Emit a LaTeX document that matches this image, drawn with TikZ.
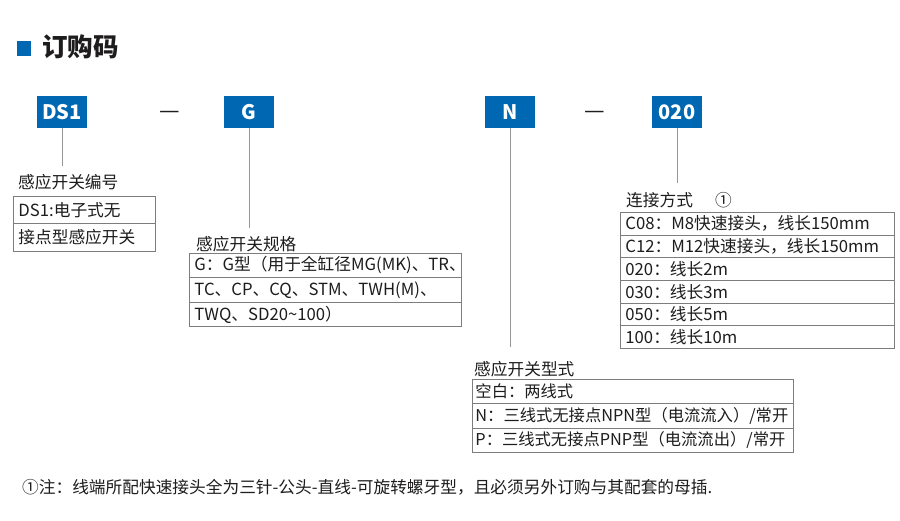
\documentclass[tikz,border=0pt]{standalone}
\usepackage{fontspec}
\setmainfont{Noto Sans CJK SC}
\definecolor{blu}{RGB}{0,104,178}
\definecolor{txt}{RGB}{30,28,28}
\definecolor{bord}{RGB}{125,125,125}
\definecolor{connc}{RGB}{150,150,150}
\begin{document}
\begin{tikzpicture}[x=1pt,y=-1pt,
  code/.style={fill=blu, text=white, font=\fontsize{20}{20}\selectfont\bfseries, minimum width=50pt, minimum height=32pt, inner sep=0pt},
  rowbox/.style={draw=bord, line width=0.9pt, anchor=north west, inner xsep=5pt, inner ysep=0pt, align=left, text=txt, font=\fontsize{16.7}{16.7}\selectfont},
  narrowrow/.style={rowbox, inner xsep=3pt, font=\fontsize{16.3}{16.3}\selectfont},
  lbl/.style={anchor=west, inner sep=0pt, text=txt, font=\fontsize{16.7}{16.7}\selectfont},
  connline/.style={draw=connc, line width=1pt},
  dashtxt/.style={inner sep=0pt, text=txt, font=\fontsize{23}{23}\selectfont}]
\useasboundingbox[fill=white] (0,0) rectangle (900,521);
% title
\node[fill=blu, minimum width=14pt, minimum height=15pt, inner sep=0pt] (sq) at (24,48.5) {};
\node[anchor=west, inner sep=0pt, text=txt, font=\fontsize{25.5}{25.5}\selectfont\bfseries] (title) at (42,47) {订购码};
% code boxes
\node[code] (ds1) at (62,112) {DS1};
\node[dashtxt] (dash1) at (170,115) {—};
\node[code] (g) at (249,112) {G};
\node[code] (n) at (510,112) {N};
\node[dashtxt] (dash2) at (595,115) {—};
\node[code] (c020) at (677,112) {020};
% connector ends
\coordinate (e1) at (62,166);
\coordinate (e2) at (249,228);
\coordinate (e3) at (510,347);
\coordinate (e4) at (677,183);
\draw[connline] (ds1.south) -- (e1);
\draw[connline] (g.south) -- (e2);
\draw[connline] (n.south) -- (e3);
\draw[connline] (c020.south) -- (e4);
% DS1 table
\node[lbl] (l1) at (18,182) {感应开关编号};
\node[rowbox, text width=132pt, minimum height=27pt] (t1a) at (13,196) {DS1:电子式无};
\node[rowbox, text width=132pt, minimum height=28pt] (t1b) at (13,223) {接点型感应开关};
% G table
\node[lbl] (l2) at (196,244) {感应开关规格};
\node[rowbox, text width=262pt, minimum height=24pt] (t2a) at (189,253) {G：G型（用于全缸径MG(MK)、TR、};
\node[rowbox, text width=262pt, minimum height=25pt] (t2b) at (189,277) {TC、CP、CQ、STM、TWH(M)、};
\node[rowbox, text width=262pt, minimum height=24pt] (t2c) at (189,302) {TWQ、SD20\textasciitilde100）};
% 020 table
\node[lbl] (l4) at (626,200) {连接方式\hspace{22pt}①};
\node[rowbox, text width=264pt, minimum height=22.67pt] (t4a) at (620,212) {C08：M8快速接头，线长150mm};
\node[rowbox, text width=264pt, minimum height=22.67pt] (t4b) at (620,234.67) {C12：M12快速接头，线长150mm};
\node[rowbox, text width=264pt, minimum height=22.67pt] (t4c) at (620,257.33) {020：线长2m};
\node[rowbox, text width=264pt, minimum height=22.67pt] (t4d) at (620,280) {030：线长3m};
\node[rowbox, text width=264pt, minimum height=22.67pt] (t4e) at (620,302.67) {050：线长5m};
\node[rowbox, text width=264pt, minimum height=22.67pt] (t4f) at (620,325.33) {100：线长10m};
% N table
\node[lbl] (l3) at (474,369) {感应开关型式};
\node[narrowrow, text width=315pt, minimum height=24pt] (t3a) at (472,379) {空白：两线式};
\node[narrowrow, text width=315pt, minimum height=25pt] (t3b) at (472,403) {N：三线式无接点NPN型（电流流入）/常开};
\node[narrowrow, text width=315pt, minimum height=24pt] (t3c) at (472,428) {P：三线式无接点PNP型（电流流出）/常开};
% footnote
\node[lbl] (note) at (22,487) {①注：线端所配快速接头全为三针-公头-直线-可旋转螺牙型，且必须另外订购与其配套的母插.};
\end{tikzpicture}
\end{document}
